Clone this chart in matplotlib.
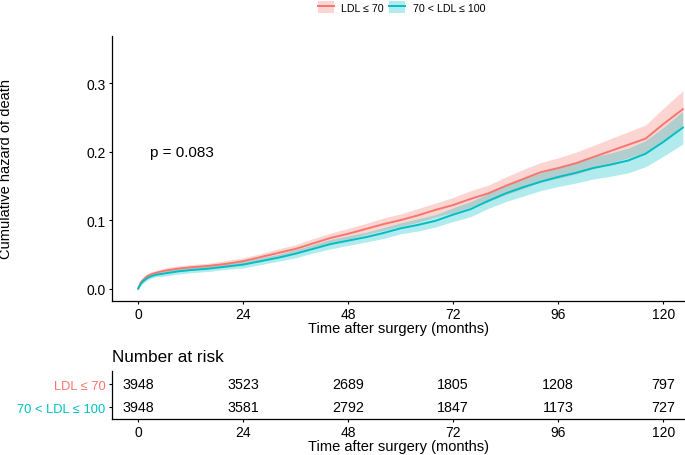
import numpy as np
import matplotlib
matplotlib.use("Agg")
import matplotlib.pyplot as plt
from matplotlib.patches import Patch
from matplotlib.lines import Line2D

plt.rcParams['font.family'] = ['Liberation Sans', 'DejaVu Sans']

# Данные
months = [0, 0.5, 1, 2, 3, 4, 6, 9, 12, 16, 20, 24, 28, 32, 36, 40, 44, 48, 52, 56,
          60, 64, 68, 72, 76, 80, 84, 88, 92, 96, 100, 104, 108, 112, 116, 120, 124.5]

haz_low = [0, 0.008, 0.012, 0.018, 0.021, 0.023, 0.026, 0.029, 0.031, 0.033, 0.036, 0.040,
           0.046, 0.052, 0.058, 0.066, 0.074, 0.080, 0.087, 0.094, 0.100, 0.107, 0.115,
           0.122, 0.131, 0.139, 0.150, 0.160, 0.170, 0.176, 0.183, 0.192, 0.201, 0.210,
           0.219, 0.240, 0.262]
haz_low_lo = [0, 0.006, 0.009, 0.015, 0.018, 0.020, 0.022, 0.025, 0.027, 0.029, 0.031, 0.035,
              0.041, 0.046, 0.052, 0.059, 0.067, 0.072, 0.079, 0.085, 0.091, 0.097, 0.105,
              0.111, 0.119, 0.127, 0.137, 0.146, 0.156, 0.161, 0.167, 0.175, 0.183, 0.191,
              0.199, 0.217, 0.235]
haz_low_hi = [0, 0.010, 0.015, 0.021, 0.024, 0.026, 0.030, 0.033, 0.035, 0.037, 0.041, 0.045,
              0.051, 0.058, 0.064, 0.073, 0.081, 0.088, 0.095, 0.103, 0.109, 0.117, 0.125,
              0.133, 0.143, 0.151, 0.163, 0.174, 0.184, 0.191, 0.199, 0.209, 0.219, 0.229,
              0.239, 0.263, 0.289]

haz_mid = [0, 0.006, 0.010, 0.015, 0.018, 0.020, 0.022, 0.025, 0.027, 0.029, 0.032, 0.035,
           0.040, 0.045, 0.051, 0.058, 0.065, 0.070, 0.075, 0.081, 0.088, 0.093, 0.099,
           0.108, 0.116, 0.128, 0.139, 0.148, 0.156, 0.163, 0.169, 0.176, 0.181, 0.187,
           0.197, 0.214, 0.235]
haz_mid_lo = [0, 0.004, 0.007, 0.012, 0.015, 0.017, 0.018, 0.021, 0.023, 0.025, 0.028, 0.030,
              0.035, 0.040, 0.045, 0.052, 0.058, 0.063, 0.068, 0.073, 0.080, 0.084, 0.090,
              0.098, 0.105, 0.117, 0.127, 0.135, 0.143, 0.149, 0.154, 0.160, 0.164, 0.169,
              0.178, 0.193, 0.211]
haz_mid_hi = [0, 0.008, 0.013, 0.018, 0.021, 0.023, 0.026, 0.029, 0.031, 0.033, 0.036, 0.040,
              0.045, 0.050, 0.057, 0.064, 0.072, 0.077, 0.082, 0.089, 0.096, 0.102, 0.108,
              0.118, 0.127, 0.139, 0.151, 0.161, 0.169, 0.177, 0.184, 0.192, 0.198, 0.205,
              0.216, 0.235, 0.259]

groups = ['LDL ≤ 70', '70 < LDL ≤ 100']
colors = ['#F8766D', '#00BFC4']
risk_times = [0, 24, 48, 72, 96, 120]
risk_low = [3948, 3523, 2689, 1805, 1208, 797]
risk_mid = [3948, 3581, 2792, 1847, 1173, 727]
p_text = 'p = 0.083'

fig = plt.figure(figsize=(6.85, 4.56), dpi=100)

# Основной график
ax = fig.add_axes([0.1635, 0.338, 0.8365, 0.581])
curves = [(haz_low, haz_low_lo, haz_low_hi), (haz_mid, haz_mid_lo, haz_mid_hi)]
for (v, lo, hi), c in zip(curves, colors):
    ax.fill_between(months, lo, hi, color=c, alpha=0.3, linewidth=0)
    ax.plot(months, v, color=c, linewidth=1.4)

ax.set_xlim(-6, 125)
ax.set_ylim(-0.018, 0.369)
ax.set_xticks(risk_times)
ax.set_yticks([0.0, 0.1, 0.2, 0.3])
ax.set_yticklabels(['0.0', '0.1', '0.2', '0.3'])
ax.tick_params(labelsize=10, colors='black', length=2.5, width=0.8, pad=2)
for s in ['top', 'right']:
    ax.spines[s].set_visible(False)
for s in ['left', 'bottom']:
    ax.spines[s].set_linewidth(0.9)
ax.set_xlabel('Time after surgery (months)', fontsize=10.5, labelpad=0)
ax.set_ylabel('Cumulative hazard of death', fontsize=10.5)
ax.yaxis.set_label_coords(-0.172, 0.5)
ax.text(2.8, 0.2, p_text, fontsize=11, va='center', ha='left')

# Легенда
handles = [(Patch(facecolor=c, alpha=0.3, edgecolor='none'), Line2D([], [], color=c, lw=1.4))
           for c in colors]
fig.legend(handles, groups, loc='center', bbox_to_anchor=(0.586, 0.982), ncol=2,
           frameon=False, fontsize=7.7, handlelength=1.5, handleheight=1.3,
           columnspacing=0.5, handletextpad=0.7, borderpad=0.2)

# Таблица "Number at risk"
ax2 = fig.add_axes([0.1635, 0.079, 0.8365, 0.105])
ax2.set_xlim(-6, 125)
ax2.set_ylim(0.478, 2.565)
for t, a, b in zip(risk_times, risk_low, risk_mid):
    ax2.text(t, 2, str(a), ha='center', va='center', fontsize=10.3)
    ax2.text(t, 1, str(b), ha='center', va='center', fontsize=10.3)
ax2.set_xticks(risk_times)
ax2.set_yticks([2, 1])
ax2.set_yticklabels(groups)
for lab, c in zip(ax2.get_yticklabels(), colors):
    lab.set_color(c)
ax2.tick_params(axis='y', labelsize=9.3, length=2.5, width=0.8, pad=2)
ax2.tick_params(axis='x', labelsize=10, length=2.5, width=0.8, pad=1.5)
for s in ['top', 'right']:
    ax2.spines[s].set_visible(False)
for s in ['left', 'bottom']:
    ax2.spines[s].set_linewidth(0.9)
ax2.set_xlabel('Time after surgery (months)', fontsize=10.5, labelpad=0)
fig.text(0.1635, 0.217, 'Number at risk', fontsize=12.3, ha='left', va='center')

fig.savefig('out.png', dpi=100)
